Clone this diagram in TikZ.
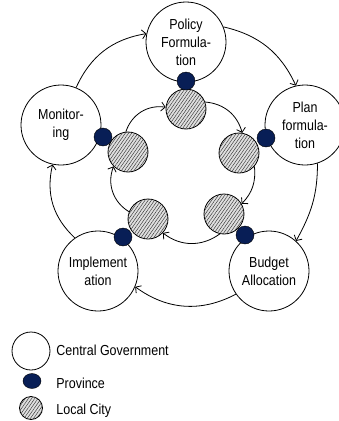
\documentclass[tikz,border=0pt]{standalone}
\usepackage{fontspec}
\setmainfont{Liberation Sans}[FakeStretch=0.86]
\usetikzlibrary{arrows.meta, patterns.meta, shapes.geometric}
\definecolor{navy}{RGB}{8,30,86}

\begin{document}
\begin{tikzpicture}[x=1pt, y=1pt, line width=0.8pt,
		every node/.style={font=\fontsize{14.5}{18}\selectfont},
		central/.style={circle, draw, fill=white, minimum size=80pt, inner sep=0pt, align=center},
		province/.style={circle, draw=black, line width=0.4pt, fill=navy, minimum size=18pt, inner sep=0pt},
		city/.style={circle, draw, fill=gray!25, postaction={pattern={Lines[angle=55, distance=2.6pt, line width=0.45pt]}, pattern color=black!80}, minimum size=40pt, inner sep=0pt},
		flow/.style={-{Straight Barb[length=4pt, width=9pt]}}]
				\useasboundingbox (0,0) rectangle (338,-421);

				\node[central] (pol) at (186,-42) {Policy\\Formula-\\tion};
				\node[central] (pla) at (305,-125) {Plan\\formula-\\tion};
				\node[central] (bud) at (269,-271) {Budget\\Allocation};
				\node[central] (imp) at (98,-271) {Implement\\ation};
				\node[central] (mon) at (61,-125) {Monitor-\\ing};

				\node[city] (cpol) at (186,-109) {};
				\node[city] (cpla) at (239,-153) {};
				\node[city] (cbud) at (224,-214) {};
				\node[city] (cimp) at (148,-219) {};
				\node[city] (cmon) at (128,-152) {};

				\node[province] (ppol) at (186,-81) {};
				\node[province] (ppla) at (266,-138) {};
				\node[province] (pbud) at (245,-235) {};
				\node[province] (pimp) at (123,-237) {};
				\node[province] (pmon) at (103,-137) {};

				\draw[flow] (mon.68) to[bend left=28] (pol.168);
				\draw[flow] (pol.22) to[bend left=26] (pla.103);
				\draw[flow] (pla.288) to[out=-90, in=61] (bud.48);
				\draw[flow] (bud.215) to[bend left=32] (imp.337);
				\draw[flow] (imp.125) to[bend left=30] (mon.258);

				\draw[flow] (cpol.20) to[bend left=35] (cpla.81);
				\draw[flow] (cpla.319) to[bend left=25] (cbud.30);
				\draw[flow] (cbud.258) to[bend left=37] (cimp.317);
				\draw[flow] (cimp.159) to[bend left=40] (cmon.225);
				\draw[flow] (cmon.96) to[bend left=40] (cpol.175);

				\node[central, minimum size=38pt] (lcen) at (31,-351) {};
				\node[province, ellipse, minimum width=18pt, minimum height=15pt] (lpro) at (32,-381) {};
				\node[city, minimum size=23pt] (lcit) at (31,-408) {};
				\node[anchor=west, inner sep=0pt] (tcen) at (56,-350) {Central Government};
				\node[anchor=west, inner sep=0pt] (tpro) at (56,-383) {Province};
				\node[anchor=west, inner sep=0pt] (tcit) at (56,-411) {Local City};
\end{tikzpicture}
\end{document}
